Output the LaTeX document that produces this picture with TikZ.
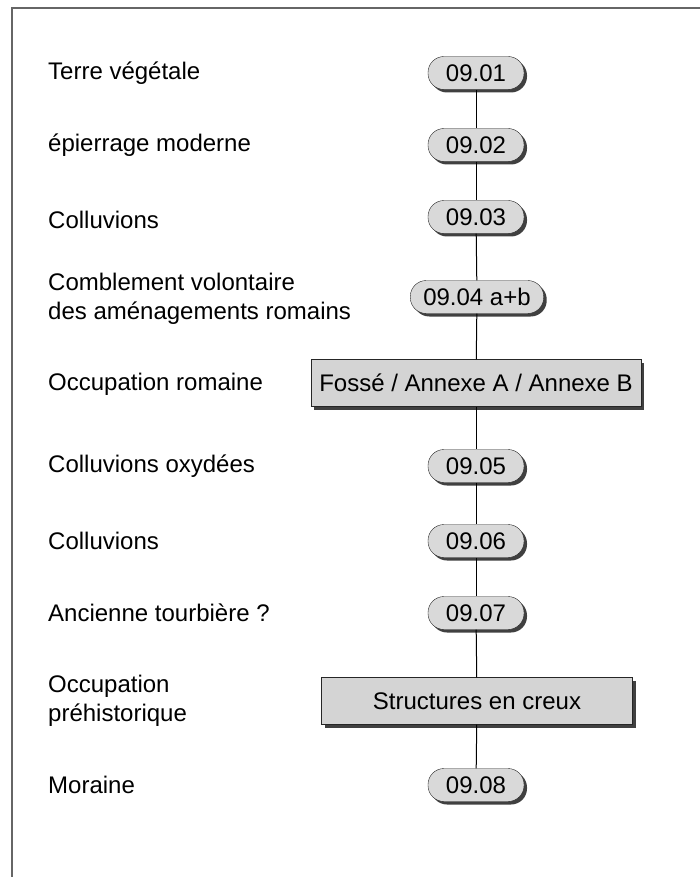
\documentclass[tikz,border=0pt]{standalone}
\usepackage{fontspec}
\setmainfont{Liberation Sans}
\usetikzlibrary{shadows}

\begin{document}
\begin{tikzpicture}[x=1pt,y=-1pt,
    font=\fontsize{24}{29}\selectfont,
    unit/.style={rectangle, rounded corners=16pt, draw=black!85, fill=black!15, minimum width=96pt,
        minimum height=33pt, inner xsep=13pt, inner ysep=0pt,
        drop shadow={shadow xshift=3pt, shadow yshift=-3pt, fill=black!75, opacity=1}},
    phase/.style={rectangle, draw=black!85, fill=black!17, minimum height=47pt, inner xsep=8pt,
        drop shadow={shadow xshift=3pt, shadow yshift=-3pt, fill=black!75, opacity=1}},
    label/.style={anchor=west, align=left, inner sep=0pt},
    link/.style={draw=black, line width=1pt}]
    \useasboundingbox (0,0) rectangle (700,877);

    % Frame
    \draw[black!60, line width=1.2pt] (12,877) -- (12,8) -- (700,8);

    % Stratigraphic units
    \node[unit] (u1) at (476,73) {09.01};
    \node[unit] (u2) at (476,145) {09.02};
    \node[unit] (u3) at (476,217) {09.03};
    \node[unit] (u4) at (477,297) {09.04 a+b};
    \node[phase] (rom) at (476,383) {Fossé / Annexe A / Annexe B};
    \node[unit] (u5) at (476,466) {09.05};
    \node[unit] (u6) at (476,541) {09.06};
    \node[unit] (u7) at (476,613) {09.07};
    \node[phase, minimum width=311pt] (pre) at (477,701) {Structures en creux};
    \node[unit] (u8) at (476,785) {09.08};

    % Sequence
    \foreach \a/\b in {u1/u2,u2/u3,u3/u4,u4/rom,rom/u5,u5/u6,u6/u7,u7/pre,pre/u8}
        \path[link] (\a) -- (\b);

    % Labels
    \node[label] (l1) at (48,73) {Terre végétale};
    \node[label] (l2) at (48,145) {épierrage moderne};
    \node[label] (l3) at (48,220) {Colluvions};
    \node[label] (l4) at (48,299) {Comblement volontaire\\des aménagements romains};
    \node[label] (l5) at (48,384) {Occupation romaine};
    \node[label] (l6) at (48,466) {Colluvions oxydées};
    \node[label] (l7) at (48,541) {Colluvions};
    \node[label] (l8) at (48,613) {Ancienne tourbière ?};
    \node[label] (l9) at (48,701) {Occupation\\préhistorique};
    \node[label] (l10) at (48,785) {Moraine};
\end{tikzpicture}
\end{document}
